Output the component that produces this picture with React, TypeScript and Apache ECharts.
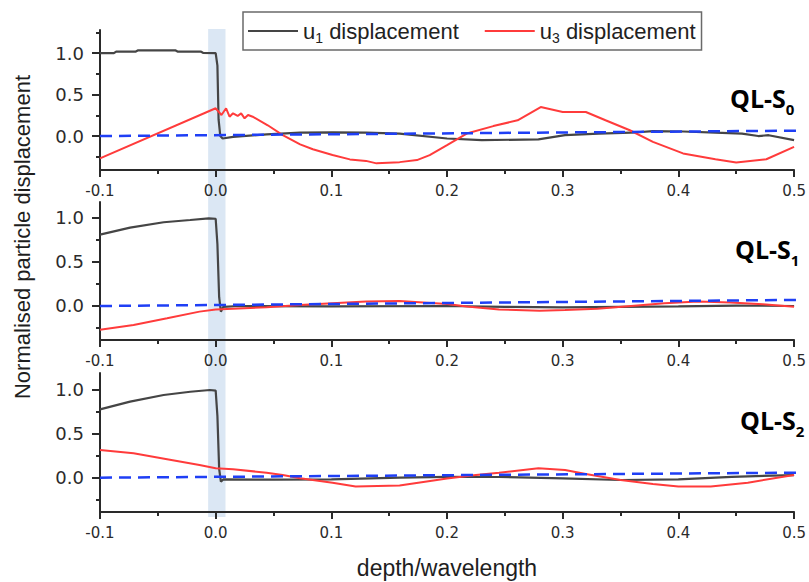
import React, { useEffect, useRef } from "react";
import * as echarts from "echarts";

// ---------- data ----------
const X_MIN = -0.1;
const X_MAX = 0.5;
const X_INTERVAL = 0.1;
const Y_MAJOR_TICKS = [0, 0.5, 1.0];
const Y_MINOR_TICKS = [-0.25, 0.25, 0.75, 1.25];
const Y_RANGES: [number, number][] = [
  [-0.41, 1.28],
  [-0.386, 1.18],
  [-0.39, 1.19],
];
const PANEL_LABELS = ["0", "1", "2"];
const BAND = [-0.0065, 0.0085];

// QL-S0
const s0U1X = [-0.1, -0.088, -0.086, -0.069, -0.067, -0.035, -0.033, -0.013, -0.011, 0.0, 0.0015, 0.0025, 0.004, 0.006, 0.015, 0.044, 0.073, 0.101, 0.13, 0.159, 0.2, 0.23, 0.279, 0.302, 0.331, 0.359, 0.378, 0.404, 0.432, 0.455, 0.469, 0.478, 0.5];
const s0U1Y = [1.0, 1.0, 1.02, 1.02, 1.035, 1.035, 1.02, 1.02, 1.005, 1.0, 0.85, 0.2, 0.0, -0.03, -0.01, 0.02, 0.04, 0.045, 0.04, 0.03, -0.03, -0.05, -0.04, 0.01, 0.03, 0.04, 0.06, 0.055, 0.04, 0.03, 0.0, 0.01, -0.05];
const s0U3X = [-0.1, 0.0, 0.005, 0.009, 0.012, 0.015, 0.019, 0.022, 0.025, 0.028, 0.032, 0.045, 0.058, 0.073, 0.084, 0.101, 0.116, 0.13, 0.139, 0.159, 0.174, 0.185, 0.2, 0.217, 0.24, 0.261, 0.281, 0.3, 0.32, 0.337, 0.358, 0.378, 0.404, 0.432, 0.45, 0.476, 0.5];
const s0U3Y = [-0.27, 0.335, 0.254, 0.335, 0.233, 0.274, 0.242, 0.274, 0.214, 0.254, 0.233, 0.13, 0.012, -0.1, -0.16, -0.229, -0.282, -0.3, -0.33, -0.315, -0.29, -0.23, -0.11, 0.03, 0.12, 0.19, 0.35, 0.29, 0.29, 0.19, 0.07, -0.07, -0.21, -0.28, -0.32, -0.28, -0.13];

// QL-S1
const s1U1X = [-0.1, -0.074, -0.045, -0.022, -0.006, 0.0, 0.0015, 0.003, 0.0045, 0.0065, 0.02, 0.1, 0.2, 0.25, 0.3, 0.35, 0.4, 0.45, 0.5];
const s1U1Y = [0.81, 0.89, 0.95, 0.976, 0.995, 0.99, 0.7, 0.1, -0.065, -0.01, 0.0, -0.005, 0.0, -0.01, -0.015, -0.01, -0.005, 0.005, 0.0];
const s1U3X = [-0.1, -0.071, -0.042, -0.014, 0.0, 0.015, 0.044, 0.073, 0.101, 0.13, 0.159, 0.2, 0.217, 0.245, 0.28, 0.302, 0.33, 0.359, 0.388, 0.417, 0.445, 0.473, 0.5];
const s1U3Y = [-0.27, -0.216, -0.14, -0.064, -0.04, -0.03, -0.015, 0.01, 0.03, 0.05, 0.057, 0.023, -0.007, -0.04, -0.053, -0.045, -0.03, 0.0, 0.03, 0.05, 0.04, 0.02, -0.01];

// QL-S2
const s2U1X = [-0.1, -0.074, -0.045, -0.022, -0.005, 0.0, 0.0015, 0.003, 0.0045, 0.0065, 0.05, 0.1, 0.159, 0.2, 0.245, 0.3, 0.35, 0.4, 0.446, 0.5];
const s2U1Y = [0.777, 0.864, 0.94, 0.977, 0.997, 0.99, 0.7, 0.1, -0.045, -0.02, -0.022, -0.02, 0.0, 0.01, 0.008, -0.007, -0.026, -0.02, 0.01, 0.03];
const s2U3X = [-0.1, -0.071, -0.042, -0.014, 0.0, 0.015, 0.044, 0.058, 0.073, 0.101, 0.121, 0.159, 0.2, 0.225, 0.245, 0.279, 0.302, 0.32, 0.35, 0.378, 0.4, 0.428, 0.46, 0.5];
const s2U3Y = [0.315, 0.277, 0.209, 0.144, 0.107, 0.095, 0.057, 0.031, -0.007, -0.057, -0.1, -0.09, -0.01, 0.03, 0.057, 0.107, 0.088, 0.042, -0.026, -0.072, -0.1, -0.1, -0.057, 0.031];

// dashed reference lines
const dashX = [-0.1, 0.512];
const s0DashY = [0, 0.066];
const s1DashY = [0, 0.07];
const s2DashY = [0, 0.058];

const U1_NAME = "u1 displacement";
const U3_NAME = "u3 displacement";

// ---------- helpers ----------
const zip = (xs: number[], ys: number[]) => xs.map((x, i) => [x, ys[i]]);
const FONT = "Liberation Sans";
const TICK_FONT = "DejaVu Sans";
const GRIDS = [
  { left: 100, right: 14, top: 30, height: 140 },
  { left: 100, right: 14, top: 202, height: 138 },
  { left: 100, right: 14, top: 373, height: 139 },
];
const PANELS = [
  { u1: zip(s0U1X, s0U1Y), u3: zip(s0U3X, s0U3Y), dash: zip(dashX, s0DashY) },
  { u1: zip(s1U1X, s1U1Y), u3: zip(s1U3X, s1U3Y), dash: zip(dashX, s1DashY) },
  { u1: zip(s2U1X, s2U1Y), u3: zip(s2U3X, s2U3Y), dash: zip(dashX, s2DashY) },
];
const LABEL_POS = [
  { x: 730, y: 98 },
  { x: 735, y: 249 },
  { x: 740, y: 420 },
];

const fmt = (v: number) => (Math.abs(v) < 1e-9 ? "0.0" : v.toFixed(1));

function buildOption() {
  const xAxis: any[] = [];
  const yAxis: any[] = [];
  const series: any[] = [];
  PANELS.forEach((p, i) => {
    xAxis.push({
      type: "value",
      gridIndex: i,
      min: X_MIN,
      max: X_MAX,
      interval: X_INTERVAL,
      axisLine: { show: true, onZero: false, lineStyle: { color: "#2a2a2a", width: 2 } },
      axisTick: { show: true, length: 7, lineStyle: { color: "#2a2a2a", width: 2 } },
      minorTick: { show: true, splitNumber: 2, length: 4, lineStyle: { color: "#2a2a2a", width: 2 } },
      splitLine: { show: false },
      minorSplitLine: { show: false },
      axisLabel: {
        margin: 13,
        fontSize: 15,
        fontFamily: TICK_FONT,
        color: "#2b2b2b",
        formatter: fmt,
      },
    });
    const [ymin, ymax] = Y_RANGES[i];
    yAxis.push({
      type: "value",
      gridIndex: i,
      min: ymin,
      max: ymax,
      position: "left",
      axisLine: { show: true, onZero: false, lineStyle: { color: "#2a2a2a", width: 2 } },
      axisTick: {
        show: true,
        length: 8,
        customValues: Y_MAJOR_TICKS,
        lineStyle: { color: "#2a2a2a", width: 2 },
      },
      splitLine: { show: false },
      axisLabel: {
        margin: 16,
        fontSize: 18,
        fontFamily: TICK_FONT,
        color: "#2b2b2b",
        customValues: Y_MAJOR_TICKS,
        formatter: fmt,
      },
    });
    yAxis.push({
      type: "value",
      gridIndex: i,
      min: ymin,
      max: ymax,
      position: "left",
      axisLine: { show: false, onZero: false },
      axisTick: {
        show: true,
        length: 4,
        customValues: Y_MINOR_TICKS.filter((v) => v >= ymin && v <= ymax),
        lineStyle: { color: "#2a2a2a", width: 2 },
      },
      splitLine: { show: false },
      axisLabel: { show: false },
    });
    const yi = i * 2;
    series.push({
      name: U1_NAME,
      type: "line",
      xAxisIndex: i,
      yAxisIndex: yi,
      data: p.u1,
      symbol: "none",
      showSymbol: false,
      lineStyle: { color: "#454545", width: 2.2 },
      itemStyle: { color: "#454545" },
      z: 3,
    });
    series.push({
      name: U3_NAME,
      type: "line",
      xAxisIndex: i,
      yAxisIndex: yi,
      data: p.u3,
      symbol: "none",
      showSymbol: false,
      lineStyle: { color: "#ff3b3b", width: 2 },
      itemStyle: { color: "#ff3b3b" },
      z: 4,
    });
    series.push({
      name: "reference",
      type: "line",
      xAxisIndex: i,
      yAxisIndex: yi,
      data: p.dash,
      symbol: "none",
      showSymbol: false,
      clip: false,
      lineStyle: { color: "#1f3ff5", width: 2.5, type: [12, 7] },
      itemStyle: { color: "#1f3ff5" },
      z: 5,
    });
  });

  return {
    animation: false,
    backgroundColor: "#ffffff",
    grid: GRIDS,
    xAxis,
    yAxis,
    series,
    legend: {
      data: [U1_NAME, U3_NAME],
      left: 243,
      top: 12,
      padding: [5, 6, 5, 5],
      itemGap: 26,
      itemWidth: 50,
      itemHeight: 2,
      icon: "rect",
      borderColor: "#6a6a6a",
      borderWidth: 1.5,
      borderRadius: 0,
      backgroundColor: "#ffffff",
      selectedMode: false,
      formatter: (name: string) => name.replace(/^u(\d)/, "u{s|$1}"),
      textStyle: {
        fontSize: 22,
        lineHeight: 28,
        fontFamily: FONT,
        color: "#222",
        rich: {
          s: { fontSize: 14, lineHeight: 14, verticalAlign: "bottom", fontFamily: FONT, color: "#222" },
        },
      },
    },
  };
}

export default function App() {
  const ref = useRef<HTMLDivElement>(null);
  useEffect(() => {
    const chart = echarts.init(ref.current!, null, { renderer: "svg" });
    chart.setOption(buildOption() as any);
    const bx0 = chart.convertToPixel({ xAxisIndex: 0 }, BAND[0]) as number;
    const bx1 = chart.convertToPixel({ xAxisIndex: 0 }, BAND[1]) as number;
    const byTop = (chart.convertToPixel({ yAxisIndex: 0 }, Y_RANGES[0][1]) as number) - 1;
    const byBot = (chart.convertToPixel({ yAxisIndex: 4 }, Y_RANGES[2][0]) as number) + 5;

    const graphic: any[] = [
      {
        type: "rect",
        z: -10,
        silent: true,
        shape: { x: bx0, y: byTop, width: bx1 - bx0, height: byBot - byTop },
        style: { fill: "#dbe7f4" },
      },
      {
        type: "text",
        x: 22,
        y: 237,
        rotation: Math.PI / 2,
        style: {
          text: "Normalised particle displacement",
          fontSize: 22,
          fontFamily: FONT,
          fill: "#1e1e1e",
          align: "center",
          verticalAlign: "middle",
        },
      },
      {
        type: "text",
        x: 447,
        y: 568,
        style: {
          text: "depth/wavelength",
          fontSize: 23,
          fontFamily: FONT,
          fill: "#1e1e1e",
          align: "center",
          verticalAlign: "middle",
        },
      },
    ];
    PANEL_LABELS.forEach((sub, i) => {
      graphic.push({
        type: "text",
        x: LABEL_POS[i].x,
        y: LABEL_POS[i].y,
        z: 20,
        style: {
          text: `{m|QL-S}{s|${sub}}`,
          align: "left",
          verticalAlign: "middle",
          rich: {
            m: { fontSize: 25, lineHeight: 36, fontWeight: "bold", fontFamily: "Open Sans", fill: "#000" },
            s: { fontSize: 15, lineHeight: 15, verticalAlign: "bottom", fontWeight: "bold", fontFamily: "Open Sans", fill: "#000" },
          },
        },
      });
    });
    chart.setOption({ graphic });
    return () => chart.dispose();
  }, []);
  return (
    <div
      ref={ref}
      style={{ position: "fixed", left: 0, top: 0, width: 809, height: 582 }}
    />
  );
}
